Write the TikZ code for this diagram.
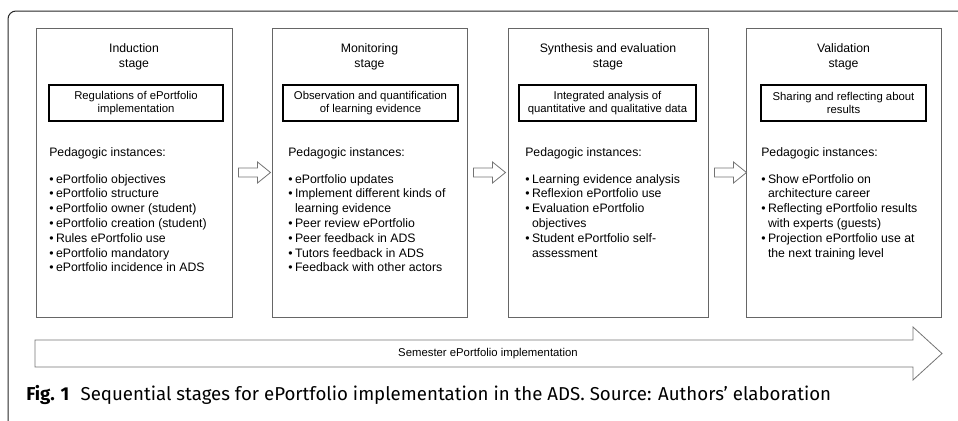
\documentclass[tikz,border=0pt]{standalone}
\usepackage{fontspec}
\setmainfont{Liberation Sans}
\newfontfamily\capfont{Fira Sans}
\usetikzlibrary{positioning,calc}

% bullet and hanging indent for the instance lists
\newcommand{\bul}{\makebox[0.55em][l]{\textbullet}}
\newcommand{\cont}{\hspace*{0.55em}}

\tikzset{
  stagebox/.style={draw=black!60, line width=0.75pt, minimum height=216.75pt, inner sep=0pt},
  stagetitle/.style={anchor=north, align=center, inner sep=0pt, font=\fontsize{9.2}{11.25}\selectfont},
  goalbox/.style={draw=black, line width=1.1pt, minimum height=27pt, align=center, inner sep=0pt,
    font=\fontsize{8.5}{9.75}\selectfont},
  instlist/.style={anchor=north west, align=left, inner sep=0pt, font=\fontsize{9.2}{11.1}\selectfont},
  blockarrow/.style={draw=black!55, line width=0.6pt},
  frameline/.style={draw=black!85, line width=0.75pt, rounded corners=6pt}
}

\begin{document}
\begin{tikzpicture}[x=0.75pt,y=-0.75pt]
\useasboundingbox (0,0) rectangle (958,421);

% frame
\draw[frameline] (8,421) -- (8,11) -- (958,11);

% Induction stage
\node[stagebox, minimum width=147pt] (ind) at (134,172.5) {};
\node[stagetitle] (indT) at (134,43) {Induction\\stage};
\node[goalbox, minimum width=130.5pt] (indG) at (136,103) {Regulations of ePortfolio\\implementation};
\node[instlist] (indL) at (49,147) {Pedagogic instances:\\[9.1pt]
  \bul ePortfolio objectives\\
  \bul ePortfolio structure\\
  \bul ePortfolio owner (student)\\
  \bul ePortfolio creation (student)\\
  \bul Rules ePortfolio use\\
  \bul ePortfolio mandatory\\
  \bul ePortfolio incidence in ADS};

% Monitoring stage
\node[stagebox, minimum width=146.25pt] (mon) at (369.5,172.5) {};
\node[stagetitle] (monT) at (369.5,43) {Monitoring\\stage};
\node[goalbox, minimum width=131.25pt] (monG) at (370.5,103) {Observation and quantification\\of learning evidence};
\node[instlist] (monL) at (288,147) {Pedagogic instances:\\[9.1pt]
  \bul ePortfolio updates\\
  \bul Implement different kinds of\\
  \cont learning evidence\\
  \bul Peer review ePortfolio\\
  \bul Peer feedback in ADS\\
  \bul Tutors feedback in ADS\\
  \bul Feedback with other actors};

% Synthesis and evaluation stage
\node[stagebox, minimum width=150pt] (syn) at (608,172.5) {};
\node[stagetitle] (synT) at (608,43) {Synthesis and evaluation\\stage};
\node[goalbox, minimum width=132.75pt] (synG) at (607.5,103) {Integrated analysis of\\quantitative and qualitative data};
\node[instlist] (synL) at (525,147) {Pedagogic instances:\\[9.1pt]
  \bul Learning evidence analysis\\
  \bul Reflexion ePortfolio use\\
  \bul Evaluation ePortfolio\\
  \cont objectives\\
  \bul Student ePortfolio self-\\
  \cont assessment};

% Validation stage
\node[stagebox, minimum width=146.25pt] (val) at (843.5,172.5) {};
\node[stagetitle] (valT) at (843.5,43) {Validation\\stage};
\node[goalbox, minimum width=123.75pt] (valG) at (843.5,103) {Sharing and reflecting about\\results};
\node[instlist] (valL) at (761,147) {Pedagogic instances:\\[9.1pt]
  \bul Show ePortfolio on\\
  \cont architecture career\\
  \bul Reflecting ePortfolio results\\
  \cont with experts (guests)\\
  \bul Projection ePortfolio use at\\
  \cont the next training level};

% arrows between the stages
\draw[blockarrow] ($(ind.east)+(6,-4.5)$) -- ++(19,0) -- ++(0,-6) -- ++(13,10.5) -- ++(-13,10.5) -- ++(0,-6) -- ++(-19,0) -- cycle;
\draw[blockarrow] ($(mon.east)+(6,-4.5)$) -- ++(19,0) -- ++(0,-6) -- ++(13,10.5) -- ++(-13,10.5) -- ++(0,-6) -- ++(-19,0) -- cycle;
\draw[blockarrow] ($(syn.east)+(6,-4.5)$) -- ++(19,0) -- ++(0,-6) -- ++(13,10.5) -- ++(-13,10.5) -- ++(0,-6) -- ++(-19,0) -- cycle;

% semester arrow
\coordinate (semL) at (35,353.5);
\draw[blockarrow] ($(semL)+(0,-13.5)$) -- ++(878,0) -- ++(0,-13) -- ++(29,26.5) -- ++(-29,26.5) -- ++(0,-13) -- ++(-878,0) -- cycle;
\node[inner sep=0pt, font=\fontsize{8.5}{10}\selectfont] (sem) at (488,354) {Semester ePortfolio implementation};

% caption
\node[anchor=base west, inner sep=0pt, font=\capfont\fontsize{14}{16}\selectfont] (cap) at (26,400)
  {\textbf{Fig. 1}\hspace{0.6em}Sequential stages for ePortfolio implementation in the ADS. Source: Authors’ elaboration};

\end{tikzpicture}
\end{document}
